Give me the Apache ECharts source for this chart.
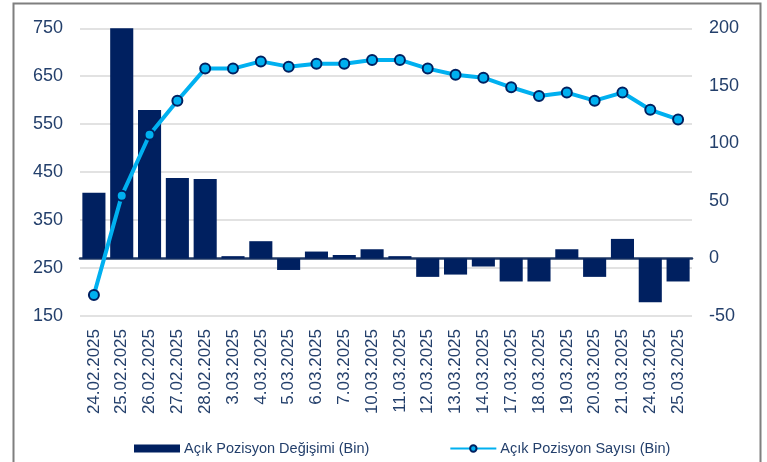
<!DOCTYPE html>
<html>
<head>
<meta charset="utf-8">
<script src="https://cdn.jsdelivr.net/npm/echarts@6/dist/echarts.min.js"></script>
<style>
html,body{margin:0;padding:0;background:#fff;}
#c{width:767px;height:462px;}
</style>
</head>
<body>
<div id="c"></div>
<script>
const categories = ["24.02.2025","25.02.2025","26.02.2025","27.02.2025","28.02.2025","3.03.2025","4.03.2025","5.03.2025","6.03.2025","7.03.2025","10.03.2025","11.03.2025","12.03.2025","13.03.2025","14.03.2025","17.03.2025","18.03.2025","19.03.2025","20.03.2025","21.03.2025","24.03.2025","25.03.2025"];
const changeValues = [57,200,129,70,69,2,15,-10,6,3,8,2,-16,-14,-7,-20,-20,8,-16,17,-38,-20];
const countValues = [194,401,528,599,666,666,681,670,676,676,684,684,666,653,647,627,609,616,599,616,580,560];
const leftTicks = [150,250,350,450,550,650,750];
const rightTicks = [-50,0,50,100,150,200];
const seriesNames = ["Açık Pozisyon Değişimi (Bin)","Açık Pozisyon Sayısı (Bin)"];

const labelColor = '#233f6b';
const navy = '#002060';
const cyan = '#00B0F0';
const fontFam = '"Liberation Sans", Arial, sans-serif';

const chart = echarts.init(document.getElementById('c'), null, {renderer:'canvas'});
chart.setOption({
  animation:false,
  backgroundColor:'#fff',
  graphic:[{
    type:'rect', left:11, top:1, z:100,
    shape:{x:0,y:0,width:747,height:470},
    style:{fill:'none', stroke:'#7f7f7f', lineWidth:2}
  }],
  legend:{
    left:129, top:436,
    itemWidth:46, itemHeight:8, itemGap:80,
    textStyle:{color:labelColor, fontSize:14.5, fontFamily:fontFam, padding:[0,0,0,-1]},
    data:[{name:seriesNames[0], icon:'rect'},{name:seriesNames[1]}]
  },
  grid:{left:80, right:75, top:28.3, bottom:146, containLabel:false},
  xAxis:{
    type:'category', data:categories,
    axisLine:{show:true, lineStyle:{color:'#1f3864', width:2.5}},
    axisTick:{show:false},
    axisLabel:{rotate:90, interval:0, margin:13, color:labelColor, fontSize:17, fontFamily:fontFam}
  },
  yAxis:[{
    type:'value', position:'left', min:leftTicks[0], max:leftTicks[leftTicks.length-1], interval:100,
    axisLine:{show:false}, axisTick:{show:false},
    axisLabel:{margin:17, color:labelColor, fontSize:18, fontFamily:fontFam},
    splitLine:{show:true, lineStyle:{color:'#d9d9d9', width:1.5}}
  },{
    type:'value', position:'right', min:rightTicks[0], max:rightTicks[rightTicks.length-1], interval:50,
    axisLine:{show:false}, axisTick:{show:false},
    axisLabel:{margin:17, color:labelColor, fontSize:18, fontFamily:fontFam},
    splitLine:{show:false}
  }],
  series:[{
    name:seriesNames[0], type:'bar', yAxisIndex:1, data:changeValues,
    barCategoryGap:'17%',
    itemStyle:{color:navy}
  },{
    name:seriesNames[1], type:'line', yAxisIndex:0, data:countValues,
    symbol:'circle', symbolSize:10,
    lineStyle:{color:cyan, width:4},
    itemStyle:{color:cyan, borderColor:navy, borderWidth:2},
    z:5
  }]
});
</script>
</body>
</html>
